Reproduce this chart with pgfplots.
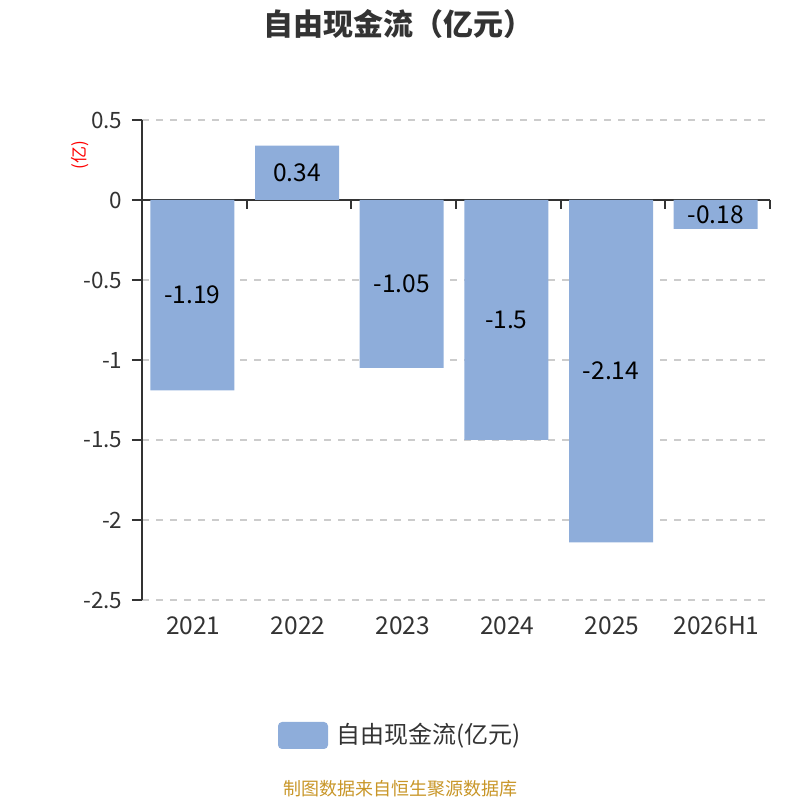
\documentclass[border=0pt]{standalone}
\usepackage{pgfplots}
\pgfplotsset{compat=1.18}
\usepackage{fontspec}
\setmainfont{Noto Sans CJK SC}
\definecolor{barc}{RGB}{142,173,218}
\definecolor{axc}{RGB}{51,51,51}
\definecolor{gridc}{RGB}{204,204,204}
\definecolor{srcc}{RGB}{200,150,40}
\begin{document}
\begin{tikzpicture}[x=1pt,y=1pt]
\useasboundingbox (0,0) rectangle (800,800);
\begin{axis}[at={(142pt,200pt)}, anchor=south west, scale only axis,
 width=628pt, height=480pt,
 xmin=-0.5, xmax=5.5, ymin=-2.5, ymax=0.5,
 axis y line*=left, axis x line*=bottom,
 x axis line style={draw=none},
 y axis line style={line width=1.8pt, color=axc},
 ytick={-2.5,-2,-1.5,-1,-0.5,0,0.5},
 yticklabels={-2.5,-2,-1.5,-1,-0.5,0,0.5},
 xtick={0,1,2,3,4,5},
 xticklabels={2021,2022,2023,2024,2025,2026H1},
 tick align=outside, major tick length=10pt,
 ytick style={line width=1.8pt, color=axc},
 xtick style={draw=none},
 ymajorgrids,
 major grid style={line width=1.8pt, color=gridc, dash pattern=on 7pt off 7pt},
 yticklabel style={font=\fontsize{22.5}{22.5}\selectfont, color=axc, xshift=-6pt},
 xticklabel style={font=\fontsize{24.5}{24.5}\selectfont, color=axc, yshift=-3pt, xshift=-1pt},
 clip=false,
]
\draw[line width=1.8pt, color=axc] (axis cs:-0.5,0) -- (axis cs:5.5,0);
\pgfplotsinvokeforeach{0.5,1.5,2.5,3.5,4.5,5.5}{
  \draw[line width=1.8pt, color=axc] (axis cs:#1,0) -- ([yshift=-9pt]axis cs:#1,0);
}
\addplot[ybar, bar width=84pt, bar shift=-2pt, fill=barc, draw=none]
  coordinates {(0,-1.19) (1,0.34) (2,-1.05) (3,-1.5) (4,-2.14) (5,-0.18)};
\addplot[draw=none, mark=none, nodes near coords, point meta=explicit symbolic,
  nodes near coords align=center,
  every node near coord/.append style={font=\fontsize{24.5}{24.5}\selectfont, text=black, xshift=-2pt}]
  coordinates {(0,-0.595)[-1.19] (1,0.17)[0.34] (2,-0.525)[-1.05]
               (3,-0.75)[-1.5] (4,-1.07)[-2.14] (5,-0.09)[-0.18]};
\end{axis}
\node[rotate=90, text=red, font=\fontsize{17}{17}\selectfont] at (80,645) {(亿)};
\node[font=\fontsize{30}{30}\selectfont\bfseries, text=axc] at (398,776) {自由现金流（亿元）};
\fill[barc, rounded corners=4pt] (278,51) rectangle (328,78);
\node[anchor=west, font=\fontsize{24}{24}\selectfont, text=axc] at (333,64) {自由现金流(亿元)};
\node[font=\fontsize{18}{18}\selectfont, text=srcc] at (400,11) {制图数据来自恒生聚源数据库};
\end{tikzpicture}
\end{document}
